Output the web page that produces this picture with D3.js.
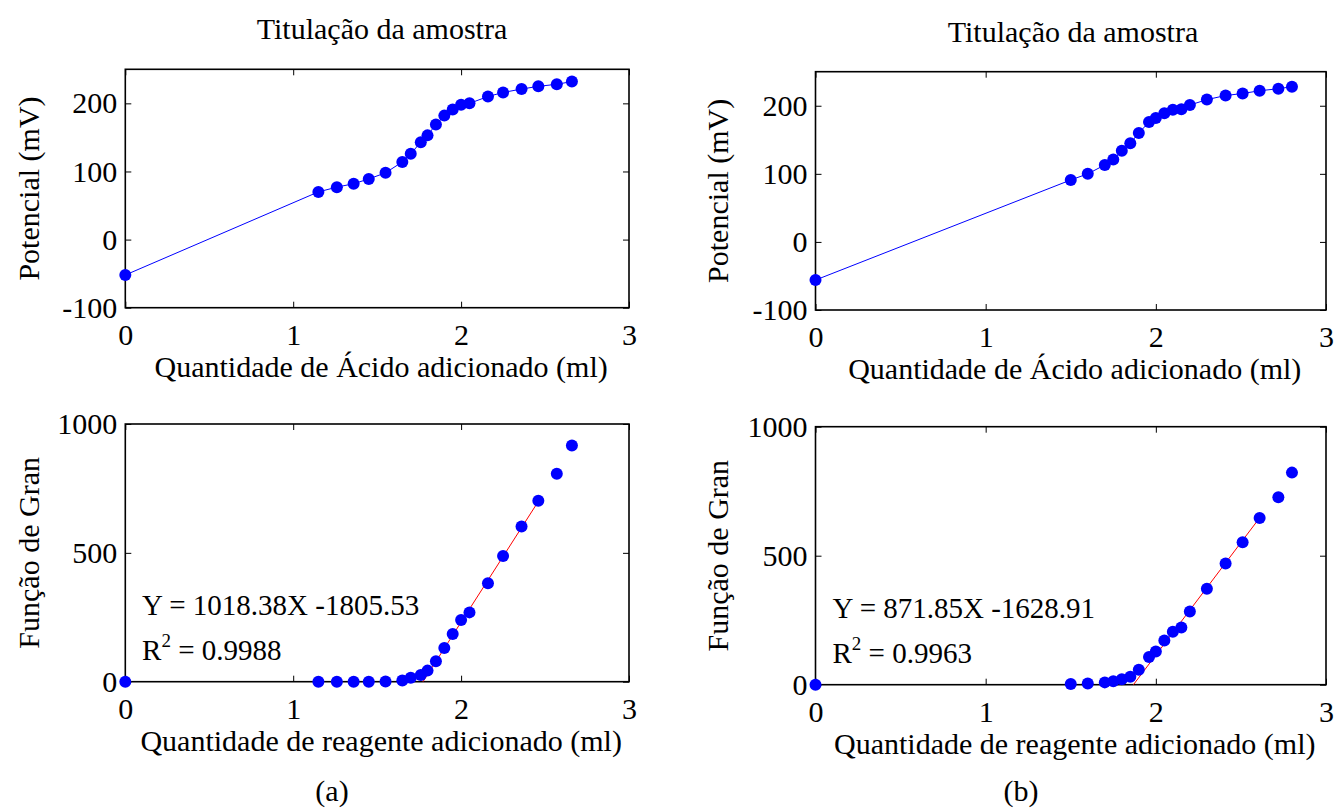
<!DOCTYPE html>
<html>
<head>
<meta charset="utf-8">
<script src="https://cdn.jsdelivr.net/npm/d3@7"></script>
<style>
  body { margin: 0; background: #fff; }
  svg, svg text { font-family: "Liberation Serif", "Times New Roman", serif; fill: #000; }
</style>
</head>
<body>
<svg id="fig" width="1337" height="809"></svg>
<script>
// ---- Sample (a): volume of titrant added (ml), potential (mV), Gran function
const volA  = [0, 1.15, 1.26, 1.36, 1.45, 1.55, 1.65, 1.70, 1.76, 1.80, 1.85, 1.90, 1.95, 2.00, 2.05, 2.16, 2.25, 2.36, 2.46, 2.57, 2.66];
const potA  = [-52, 70, 77, 82, 89, 98, 114, 126, 143, 153, 169, 182, 191, 198, 200, 210, 216, 221, 225, 228, 232];
const granA = [0, 0, 0, 0, 0, 1, 5, 15, 26, 43, 79, 131, 185, 239, 269, 382, 488, 602, 702, 807, 917];

// ---- Sample (b)
const volB  = [0, 1.50, 1.60, 1.70, 1.75, 1.80, 1.85, 1.90, 1.96, 2.00, 2.05, 2.10, 2.15, 2.20, 2.30, 2.41, 2.51, 2.61, 2.72, 2.80];
const potB  = [-56, 91, 100, 113, 121, 134, 145, 160, 176, 182, 189, 194, 195, 201, 209, 215, 218, 222, 225, 228];
const granB = [0, 3, 5, 9, 13, 21, 31, 58, 107, 129, 171, 205, 222, 284, 372, 470, 552, 646, 727, 822];

// Linear fits of the Gran function (a, b)
const fitSlope     = [1018.38, 871.85];
const fitIntercept = [-1805.53, -1628.91];
const fitR2        = [0.9988, 0.9963];
const fitFrom      = [1.76, 1.85];
const fitTo        = [2.46, 2.61];

// Axis ticks
const volTicks  = [0, 1, 2, 3];
const potTicks  = [-100, 0, 100, 200];
const granTicks = [0, 500, 1000];

// Texts
const titleText  = "Titulação da amostra";
const potLabel   = "Potencial (mV)";
const granLabel  = "Função de Gran";
const acidLabel  = "Quantidade de Ácido adicionado (ml)";
const reagLabel  = "Quantidade de reagente adicionado (ml)";
const panelTags  = ["(a)", "(b)"];

// Layout of the two columns
const FAMILY = '"Liberation Serif", "Times New Roman", serif';
const FONT = 30;
const layout = [
  { title: [382, 39], ylabX: 39,
    top: { l: 125.3, r: 629, t: 69.3, b: 307.7 },
    bot: { l: 125.3, r: 629, t: 424, b: 681.7 },
    tag: [332, 801] },
  { title: [1073, 42], ylabX: 728,
    top: { l: 815.5, r: 1326, t: 71.7, b: 310 },
    bot: { l: 815.5, r: 1326, t: 426.7, b: 684.7 },
    tag: [1021, 801] }
];

const svg = d3.select("#fig");
let clipId = 0;

function label(sel, size) {
  return sel.attr("font-family", FAMILY).style("font-family", FAMILY)
            .style("font-size", (size || FONT) + "px").attr("fill", "#000");
}

function styleAxis(g) {
  g.select(".domain").remove();
  g.selectAll(".tick line").attr("stroke", "#000").attr("stroke-width", 1);
  label(g.selectAll(".tick text"));
}

function frame(box, yDomain, yTicks, xLabel, yLabel, ylabX) {
  const x = d3.scaleLinear().domain([0, 3]).range([box.l, box.r]);
  const y = d3.scaleLinear().domain(yDomain).range([box.b, box.t]);
  const fmt = d => String(d);

  svg.append("g").attr("transform", `translate(0,${box.b})`)
    .call(d3.axisBottom(x).tickValues(volTicks).tickFormat(fmt).tickSizeInner(-6).tickSizeOuter(0).tickPadding(16))
    .call(styleAxis);
  svg.append("g").attr("transform", `translate(0,${box.t})`)
    .call(d3.axisTop(x).tickValues(volTicks).tickFormat("").tickSizeInner(-6).tickSizeOuter(0))
    .call(styleAxis);
  svg.append("g").attr("transform", `translate(${box.l},0)`)
    .call(d3.axisLeft(y).tickValues(yTicks).tickFormat(fmt).tickSizeInner(-6).tickSizeOuter(0).tickPadding(8))
    .call(styleAxis);
  svg.append("g").attr("transform", `translate(${box.r},0)`)
    .call(d3.axisRight(y).tickValues(yTicks).tickFormat("").tickSizeInner(-6).tickSizeOuter(0))
    .call(styleAxis);

  svg.append("rect")
    .attr("x", box.l).attr("y", box.t)
    .attr("width", box.r - box.l).attr("height", box.b - box.t)
    .attr("fill", "none").attr("stroke", "#000").attr("stroke-width", 1.6);

  label(svg.append("text"))
    .attr("x", (box.l + box.r) / 2 + 4).attr("y", box.b + 69)
    .attr("text-anchor", "middle")
    .text(xLabel);

  label(svg.append("text"))
    .attr("transform", `translate(${ylabX},${(box.t + box.b) / 2}) rotate(-90)`)
    .attr("text-anchor", "middle")
    .text(yLabel);

  const id = "clip" + (clipId++);
  svg.append("clipPath").attr("id", id).append("rect")
    .attr("x", box.l).attr("y", box.t)
    .attr("width", box.r - box.l).attr("height", box.b - box.t);

  return { x, y, clip: `url(#${id})` };
}

function dots(s, xs, ys) {
  svg.append("g").selectAll("circle")
    .data(xs.map((v, i) => [v, ys[i]]))
    .join("circle")
    .attr("cx", d => s.x(d[0])).attr("cy", d => s.y(d[1]))
    .attr("r", 6).attr("fill", "#0000ff");
}

const columns = [
  { vol: volA, pot: potA, gran: granA },
  { vol: volB, pot: potB, gran: granB }
];

columns.forEach((col, k) => {
  const L = layout[k];

  // title
  label(svg.append("text"))
    .attr("x", L.title[0]).attr("y", L.title[1])
    .attr("text-anchor", "middle")
    .text(titleText);

  // potential vs volume
  const s1 = frame(L.top, [-100, 250], potTicks, acidLabel, potLabel, L.ylabX);
  svg.append("path")
    .datum(col.vol.map((v, i) => [v, col.pot[i]]))
    .attr("fill", "none").attr("stroke", "#0000ff").attr("stroke-width", 1)
    .attr("d", d3.line().x(d => s1.x(d[0])).y(d => s1.y(d[1])));
  dots(s1, col.vol, col.pot);

  // Gran function vs volume
  const s2 = frame(L.bot, [0, 1000], granTicks, reagLabel, granLabel, L.ylabX);
  const f = v => fitSlope[k] * v + fitIntercept[k];
  svg.append("path")
    .datum([fitFrom[k], fitTo[k]])
    .attr("clip-path", s2.clip)
    .attr("fill", "none").attr("stroke", "#ff0000").attr("stroke-width", 1)
    .attr("d", d3.line().x(v => s2.x(v)).y(v => s2.y(f(v))));
  dots(s2, col.vol, col.gran);

  // regression annotation
  const eq = `Y = ${fitSlope[k].toFixed(2)}X -${Math.abs(fitIntercept[k]).toFixed(2)}`;
  label(svg.append("text"), 29)
    .attr("x", s2.x(0.1)).attr("y", s2.y(260))
    .text(eq);
  const r2 = label(svg.append("text"), 29)
    .attr("x", s2.x(0.1)).attr("y", s2.y(260) + 45);
  r2.append("tspan").text("R");
  r2.append("tspan").attr("dy", -13).style("font-size", "19px").text("2");
  r2.append("tspan").attr("dy", 13).text(" = " + fitR2[k].toFixed(4));

  // panel tag
  label(svg.append("text"))
    .attr("x", L.tag[0]).attr("y", L.tag[1])
    .attr("text-anchor", "middle")
    .text(panelTags[k]);
});
</script>
</body>
</html>
